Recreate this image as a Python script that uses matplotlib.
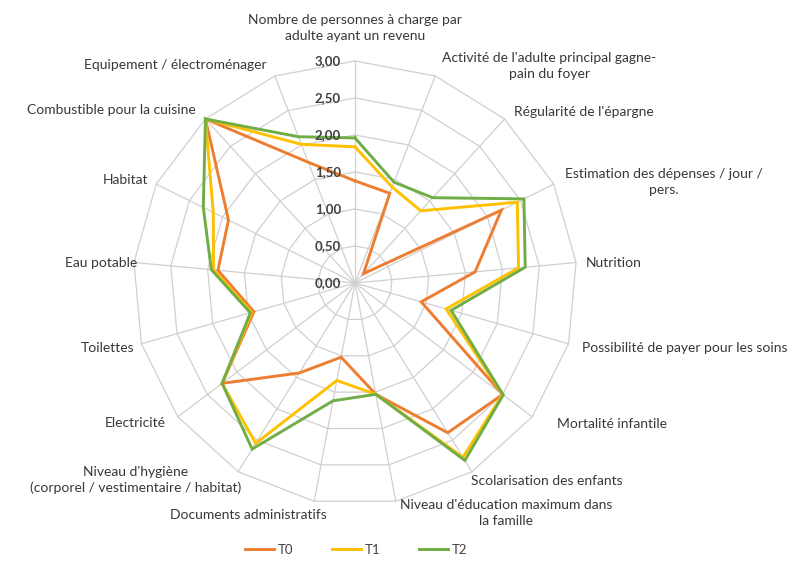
import numpy as np
import matplotlib
matplotlib.use("Agg")
import matplotlib.pyplot as plt

plt.rcParams['font.family'] = ['Lato', 'DejaVu Sans']

categories = [
    "Nombre de personnes à charge par\nadulte ayant un revenu",
    "Activité de l'adulte principal gagne-\npain du foyer",
    "Régularité de l'épargne",
    "Estimation des dépenses / jour /\npers.",
    "Nutrition",
    "Possibilité de payer pour les soins",
    "Mortalité infantile",
    "Scolarisation des enfants",
    "Niveau d'éducation maximum dans\nla famille",
    "Documents administratifs",
    "Niveau d'hygiène\n(corporel / vestimentaire / habitat)",
    "Electricité",
    "Toilettes",
    "Eau potable",
    "Habitat",
    "Combustible pour la cuisine",
    "Equipement / électroménager",
]

t0 = [1.38, 1.30, 0.17, 2.21, 1.63, 0.93, 2.50, 2.38, 1.53, 1.02,
      1.43, 2.25, 1.42, 1.86, 1.91, 3.00, 1.75]
t1 = [1.84, 1.39, 1.32, 2.45, 2.22, 1.28, 2.50, 2.77, 1.53, 1.34,
      2.55, 2.25, 1.45, 1.92, 2.14, 3.00, 2.01]
t2 = [1.96, 1.46, 1.56, 2.55, 2.31, 1.35, 2.51, 2.82, 1.53, 1.62,
      2.64, 2.25, 1.47, 1.95, 2.29, 3.00, 2.12]

series_names = ["T0", "T1", "T2"]
series_values = [t0, t1, t2]
series_colors = ["#ED7D31", "#FFC000", "#70AD47"]

r_ticks = [0.0, 0.5, 1.0, 1.5, 2.0, 2.5, 3.0]
r_tick_labels = ["0,00", "0,50", "1,00", "1,50", "2,00", "2,50", "3,00"]

# label placement: offsets in pixels from the outer end of each spoke
label_offsets = [
    (0, 33), (114, 10), (79, 7), (110, 2), (38, 0), (116, -4),
    (80, -7), (75, -9), (110, -12), (-66, -14), (-103, -8),
    (-43, -6), (-34, -4), (-33, 0), (-31, 4), (-94, 9), (-99, 11),
]

W, H, DPI = 791, 563, 100
fig = plt.figure(figsize=(W / DPI, H / DPI), dpi=DPI)
fig.patch.set_facecolor("white")

cx, cy, rad = 355, 283, 222
ax = fig.add_axes([(cx - rad) / W, (H - cy - rad) / H, 2 * rad / W, 2 * rad / H],
                  projection="polar")
ax.set_theta_offset(np.pi / 2)
ax.set_theta_direction(-1)
ax.set_ylim(0, 3)
ax.grid(False)
ax.set_xticks([])
ax.set_yticks([])
ax.spines["polar"].set_visible(False)
ax.patch.set_alpha(0)

n = len(categories)
theta = np.arange(n) * 2 * np.pi / n
theta_closed = np.append(theta, theta[0])

grid_color = "#D0D0D0"
# web rings
for r in r_ticks[1:]:
    ax.plot(theta_closed, [r] * (n + 1), color=grid_color, lw=0.9,
            clip_on=False, zorder=1)
# spokes
for t in theta:
    ax.plot([t, t], [0, r_ticks[-1]], color=grid_color, lw=0.9,
            clip_on=False, zorder=1)

# series
for name, vals, col in zip(series_names, series_values, series_colors):
    v = np.append(vals, vals[0])
    ax.plot(theta_closed, v, color=col, lw=2.1, label=name,
            clip_on=False, zorder=3, solid_joinstyle="miter")

# radial tick labels along the top spoke
for r, lab in zip(r_ticks, r_tick_labels):
    ax.annotate(lab, xy=(0, r), xytext=(-14, 0), textcoords="offset pixels",
                ha="right", va="center", fontsize=9.5, color="#404040",
                fontweight="bold", annotation_clip=False)

# category labels
for t, lab, (dx, dy) in zip(theta, categories, label_offsets):
    ax.annotate(lab, xy=(t, r_ticks[-1]), xytext=(dx, dy),
                textcoords="offset pixels", ha="center", va="center",
                multialignment="center", fontsize=10, color="#383838",
                linespacing=1.35, annotation_clip=False)

fig.legend(loc="lower center", ncol=3, frameon=False, fontsize=9.5,
           bbox_to_anchor=(0.45, -0.008), handlelength=2.2, columnspacing=2.9,
           handletextpad=0.3, labelcolor="#404040")

fig.savefig("out.png", dpi=DPI)
